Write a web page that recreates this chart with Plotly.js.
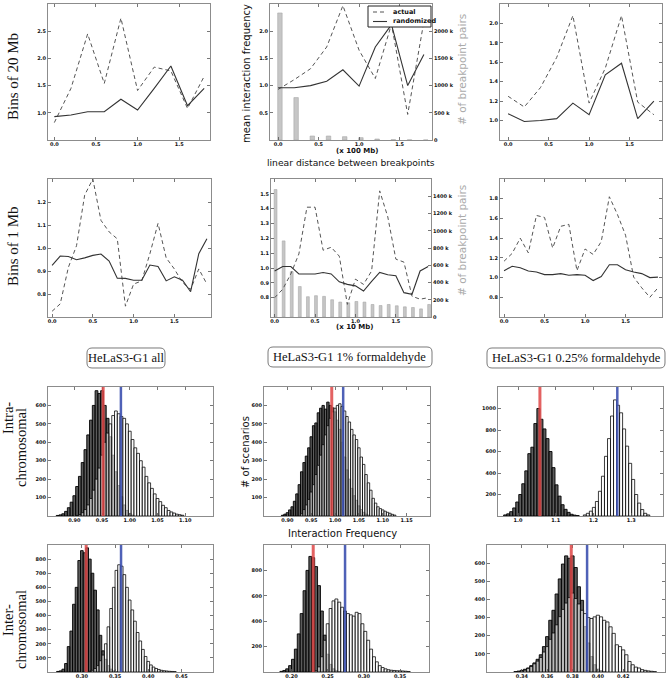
<!DOCTYPE html>
<html><head><meta charset="utf-8">
<script src="https://cdn.plot.ly/plotly-3.0.1.min.js"></script>
<style>body{margin:0;background:#fff}#chart{width:667px;height:681px}</style>
</head><body><div id="chart"></div>
<script>
// ---------- DATA ----------
const dist20 = [0.0,0.2,0.4,0.6,0.8,1.0,1.2,1.4,1.6,1.8];
const dist1 = [0.0,0.1,0.2,0.3,0.4,0.5,0.6,0.7,0.8,0.9,1.0,1.1,1.2,1.3,1.4,1.5,1.6,1.7,1.8,1.9];

const allActual20 = [0.82,1.45,2.45,1.54,2.74,1.41,1.84,1.77,1.08,1.67];
const allRandom20 = [0.93,0.96,1.02,1.02,1.25,1.05,1.45,1.86,1.13,1.45];
const fa1Actual20 = [0.93,1.11,1.31,1.71,2.47,1.65,1.13,2.13,0.47,2.18];
const fa1Random20 = [0.96,0.96,1.00,1.08,1.29,0.99,1.71,2.12,1.00,1.57];
const fa1Pairs20  = [2335000,780000,73000,73000,61000,43000,18000,6000,3000,1000];
const fa025Actual20 = [1.25,1.14,1.34,1.65,2.08,1.18,1.54,2.08,1.19,1.06];
const fa025Random20 = [1.07,0.99,1.00,1.02,1.18,1.06,1.47,1.59,1.02,1.20];

const allActual1 = [0.725,0.757,0.916,1.01,1.23,1.30,1.12,1.07,1.04,0.747,0.843,0.857,0.975,1.107,0.957,0.909,0.85,0.82,0.909,0.843];
const allRandom1 = [0.924,0.965,0.963,0.949,0.957,0.968,0.974,0.943,0.869,0.868,0.86,0.86,0.926,0.92,0.857,0.875,0.86,0.81,0.975,1.04];
const fa1Actual1 = [0.80,0.857,0.96,1.095,1.41,1.41,1.12,1.14,1.08,0.755,0.925,0.89,0.98,1.52,1.345,1.06,1.04,0.81,0.79,0.80];
const fa1Random1 = [0.98,1.01,1.01,0.96,0.96,0.96,0.97,0.96,0.907,0.89,0.88,0.845,0.91,0.97,0.955,0.948,0.834,0.823,0.98,1.01];
const fa1Pairs1  = [1478000,882000,525000,353000,235000,247000,239000,200000,173000,165000,180000,173000,145000,133000,145000,130000,118000,110000,94000,145000];
const fa025Actual1 = [1.166,1.245,1.40,1.25,1.63,1.61,1.30,1.52,1.54,1.07,1.29,1.235,1.365,1.82,1.64,1.43,1.005,0.896,0.80,0.896];
const fa025Random1 = [1.07,1.115,1.10,1.067,1.057,1.03,1.03,1.04,1.023,1.03,1.023,0.97,1.01,1.13,1.13,1.08,1.057,1.04,1.00,1.005];

// histograms: first bin centre + bin width, counts
const allIntraRandStart = 0.870, allIntraRandStep = 0.005;
const allIntraRand = [3,6,12,25,45,75,110,160,215,290,360,440,520,600,680,665,680,600,530,430,330,240,165,105,60,30,14,5];
const allIntraActStart = 0.905, allIntraActStep = 0.005;
const allIntraAct = [3,8,18,35,60,95,140,200,260,330,400,450,500,545,570,555,540,530,500,460,415,370,340,300,265,215,180,150,120,95,78,58,45,30,22,16,10,7,4];

const fa1IntraRandStart = 0.890, fa1IntraRandStep = 0.005;
const fa1IntraRand = [4,10,18,33,50,80,120,170,240,290,325,370,430,490,505,560,585,600,580,618,600,587,565,520,470,400,320,250,200,150,110,85,55,35,20,10,5];
const fa1IntraActStart = 0.930, fa1IntraActStep = 0.005;
const fa1IntraAct = [12,35,60,90,130,170,225,275,330,387,440,490,530,565,585,600,609,595,570,540,510,470,440,415,370,320,280,225,180,140,96,70,50,40,33,26,20,15,9,5];

const fa025IntraRandStart = 0.966, fa025IntraRandStep = 0.008;
const fa025IntraRand = [10,20,40,75,130,200,300,420,580,640,860,1000,900,810,720,600,450,290,185,105,62,34,16,8,4];
const fa025IntraActStart = 1.177, fa025IntraActStep = 0.008;
const fa025IntraAct = [10,25,45,80,135,230,370,555,720,930,1080,1030,960,810,650,490,340,200,120,60,25,10];

const allInterRandStart = 0.264, allInterRandStep = 0.004;
const allInterRand = [4,8,20,60,180,290,480,600,790,860,845,880,800,700,580,440,260,150,90,45,20,8,3];
const allInterActStart = 0.312, allInterActStep = 0.004;
const allInterAct = [5,12,25,45,80,120,200,320,450,600,720,760,750,690,600,510,440,360,280,220,160,110,75,50,35,25,18,12,9,7,5,4,3];

const fa1InterRandStart = 0.186, fa1InterRandStep = 0.004;
const fa1InterRand = [5,12,25,50,100,180,300,460,640,800,910,900,830,680,480,290,140,60,25,10,4];
const fa1InterActStart = 0.234, fa1InterActStep = 0.004;
const fa1InterAct = [10,40,120,250,380,500,560,575,550,510,480,460,450,440,470,460,380,320,250,180,120,80,50,35,25,18,14,12,10,9,8,6,4];

const fa025InterRandStart = 0.335, fa025InterRandStep = 0.0025;
const fa025InterRand = [2,5,9,15,22,35,50,70,95,140,195,285,340,430,513,595,640,627,640,576,470,395,250,160,85,40,16,8,3];
const fa025InterActStart = 0.340, fa025InterActStep = 0.0025;
const fa025InterAct = [5,10,20,30,45,60,80,110,140,180,215,260,305,345,380,410,435,405,375,340,322,300,295,304,313,304,285,276,249,213,150,140,122,95,58,40,27,22,13,9,6,4,2];

// mean lines (red = randomized, blue = actual) for the six histogram panels
const redMeans  = [0.952,0.993,1.058,0.3065,0.230,0.379];
const blueMeans = [0.984,1.017,1.263,0.359,0.274,0.3915];

const rowLabels = ['Bins of 20 Mb','Bins of 1 Mb'];
const rowLabelsSplit = [['Intra-','chromosomal'],['Inter-','chromosomal']];
const colLabels = ['HeLaS3-G1 all','HeLaS3-G1 1% formaldehyde','HeLaS3-G1 0.25% formaldehyde'];
const legendNames = ['actual','randomized'];
const pairTicks20 = [0,500000,1000000,1500000,2000000];
const pairTicks1 = [0,200000,400000,600000,800000,1000000,1200000,1400000];

// ---------- LAYOUT HELPERS ----------
const W=667,H=681;
const px = (a,b)=>[a/W,b/W];
const py = (t,b)=>[1-b/H,1-t/H];
const tickfont = {family:'DejaVu Sans', size:5, color:'#111', weight:'bold'};
function ax(extra){
  return Object.assign({showline:true, linecolor:'#8c8c8c', linewidth:1, ticks:'inside', ticklen:3,
    tickwidth:0.8, tickcolor:'#555', showgrid:false, zeroline:false, mirror:'ticks',
    tickfont:tickfont, fixedrange:true}, extra);
}
function xax(extra){ return ax(Object.assign({ticklabelstandoff:-1}, extra)); }
const kfmt = v => v===0 ? '0' : (v/1000)+' k';

const row1=py(4,140), row2=py(179,317), row3=py(387,516), row4=py(545,672);

const layout = {
  width:W, height:H, margin:{l:0,r:0,t:0,b:0}, paper_bgcolor:'#fff', plot_bgcolor:'#fff',
  barmode:'overlay', showlegend:false,
  // row 1
  xaxis: xax({domain:px(48,210), anchor:'y', range:[-0.076,1.87], dtick:0.5, tick0:0, tickformat:'.1f'}),
  yaxis: ax({domain:row1, anchor:'x', range:[0.5,3.0], tickvals:[1.0,1.5,2.0,2.5], tickformat:'.1f'}),
  xaxis2: xax({domain:px(270,432), anchor:'y2', range:[-0.1,1.9], dtick:0.5, tick0:0, tickformat:'.1f'}),
  yaxis2: ax({domain:row1, anchor:'x2', side:'right', mirror:false, range:[0,2500000], tickvals:pairTicks20, ticktext:pairTicks20.map(kfmt)}),
  yaxis13: ax({anchor:'x2', overlaying:'y2', side:'left', mirror:false, range:[0,2.5], tickvals:[0.5,1.0,1.5,2.0], tickformat:'.1f'}),
  xaxis3: xax({domain:px(500,662), anchor:'y3', range:[-0.1,1.9], dtick:0.5, tick0:0, tickformat:'.1f'}),
  yaxis3: ax({domain:row1, anchor:'x3', range:[0.8,2.2], tickvals:[1.0,1.2,1.4,1.6,1.8,2.0], tickformat:'.1f'}),
  // row 2
  xaxis4: xax({domain:px(48,211), anchor:'y4', range:[-0.05,1.95], dtick:0.5, tick0:0, tickformat:'.1f'}),
  yaxis4: ax({domain:row2, anchor:'x4', range:[0.7,1.3], tickvals:[0.8,0.9,1.0,1.1,1.2], tickformat:'.1f'}),
  xaxis5: xax({domain:px(271,431), anchor:'y5', range:[-0.045,1.935], dtick:0.5, tick0:0, tickformat:'.1f'}),
  yaxis5: ax({domain:row2, anchor:'x5', side:'right', mirror:false, range:[0,1600000], tickvals:pairTicks1, ticktext:pairTicks1.map(kfmt)}),
  yaxis14: ax({anchor:'x5', overlaying:'y5', side:'left', mirror:false, range:[0.67,1.6], tickvals:[0.8,0.9,1.0,1.1,1.2,1.3,1.4,1.5], tickformat:'.1f'}),
  xaxis6: xax({domain:px(500,662), anchor:'y6', range:[-0.05,1.95], dtick:0.5, tick0:0, tickformat:'.1f'}),
  yaxis6: ax({domain:row2, anchor:'x6', range:[0.6,2.0], tickvals:[0.8,1.0,1.2,1.4,1.6,1.8], tickformat:'.1f'}),
  // row 3
  xaxis7: xax({domain:px(48,213), anchor:'y7', range:[0.8526,1.15], tickvals:[0.90,0.95,1.00,1.05,1.10], tickformat:'.2f'}),
  yaxis7: ax({domain:row3, anchor:'x7', range:[0,700], tickvals:[100,200,300,400,500,600]}),
  xaxis8: xax({domain:px(264,430), anchor:'y8', range:[0.851,1.199], tickvals:[0.90,0.95,1.00,1.05,1.10,1.15], tickformat:'.2f'}),
  yaxis8: ax({domain:row3, anchor:'x8', range:[0,700], tickvals:[100,200,300,400,500,600]}),
  xaxis9: xax({domain:px(498,663), anchor:'y9', range:[0.947,1.384], tickvals:[1.0,1.1,1.2,1.3], tickformat:'.1f'}),
  yaxis9: ax({domain:row3, anchor:'x9', range:[0,1200], tickvals:[200,400,600,800,1000]}),
  // row 4
  xaxis10: xax({domain:px(48,213), anchor:'y10', range:[0.249,0.4975], tickvals:[0.30,0.35,0.40,0.45], tickformat:'.2f'}),
  yaxis10: ax({domain:row4, anchor:'x10', range:[0,900], tickvals:[100,200,300,400,500,600,700,800]}),
  xaxis11: xax({domain:px(264,429), anchor:'y11', range:[0.162,0.39], tickvals:[0.20,0.25,0.30,0.35], tickformat:'.2f'}),
  yaxis11: ax({domain:row4, anchor:'x11', range:[0,1000], tickvals:[200,400,600,800]}),
  xaxis12: xax({domain:px(487,665), anchor:'y12', range:[0.3125,0.453], tickvals:[0.34,0.36,0.38,0.40,0.42], tickformat:'.2f'}),
  yaxis12: ax({domain:row4, anchor:'x12', range:[0,700], tickvals:[100,200,300,400,500,600]}),
  shapes:[], annotations:[]
};

// ---------- TRACES ----------
const traces = [];
const dashStyle = {color:'#555', width:1, dash:'4px,3px'};
const solidStyle = {color:'#333', width:1.1};
function linePair(x, act, rnd, xa, ya){
  traces.push({type:'scatter', mode:'lines', x:x, y:act, xaxis:xa, yaxis:ya, line:dashStyle, name:legendNames[0]});
  traces.push({type:'scatter', mode:'lines', x:x, y:rnd, xaxis:xa, yaxis:ya, line:solidStyle, name:legendNames[1]});
}
function pairBars(x, y, xa, ya, w, off){
  traces.push({type:'bar', x:x, y:y, xaxis:xa, yaxis:ya, width:w, offset:off, hoverinfo:'skip',
    marker:{color:'#c6c6c6', line:{color:'#a8a8a8', width:0.6}}});
}
linePair(dist20, allActual20, allRandom20, 'x', 'y');
pairBars(dist20, fa1Pairs20, 'x2', 'y2', 0.055, -0.005);
linePair(dist20, fa1Actual20, fa1Random20, 'x2', 'y13');
linePair(dist20, fa025Actual20, fa025Random20, 'x3', 'y3');
linePair(dist1, allActual1, allRandom1, 'x4', 'y4');
pairBars(dist1, fa1Pairs1, 'x5', 'y5', 0.035, -0.006);
linePair(dist1, fa1Actual1, fa1Random1, 'x5', 'y14');
linePair(dist1, fa025Actual1, fa025Random1, 'x6', 'y6');

function hist(start, step, counts, xa, ya, dark){
  traces.push({type:'bar', x0:start, dx:step, y:counts, width:step, xaxis:xa, yaxis:ya, hoverinfo:'skip',
    marker: dark ? {color:'rgba(50,50,50,0.8)', line:{color:'#000', width:0.9}}
                 : {color:'rgba(252,252,252,0.6)', line:{color:'rgba(0,0,0,0.85)', width:0.9}}});
}
hist(allIntraRandStart, allIntraRandStep, allIntraRand, 'x7','y7', true);
hist(allIntraActStart, allIntraActStep, allIntraAct, 'x7','y7', false);
hist(fa1IntraRandStart, fa1IntraRandStep, fa1IntraRand, 'x8','y8', true);
hist(fa1IntraActStart, fa1IntraActStep, fa1IntraAct, 'x8','y8', false);
hist(fa025IntraRandStart, fa025IntraRandStep, fa025IntraRand, 'x9','y9', true);
hist(fa025IntraActStart, fa025IntraActStep, fa025IntraAct, 'x9','y9', false);
hist(allInterRandStart, allInterRandStep, allInterRand, 'x10','y10', true);
hist(allInterActStart, allInterActStep, allInterAct, 'x10','y10', false);
hist(fa1InterRandStart, fa1InterRandStep, fa1InterRand, 'x11','y11', true);
hist(fa1InterActStart, fa1InterActStep, fa1InterAct, 'x11','y11', false);
hist(fa025InterRandStart, fa025InterRandStep, fa025InterRand, 'x12','y12', true);
hist(fa025InterActStart, fa025InterActStep, fa025InterAct, 'x12','y12', false);

[7,8,9,10,11,12].forEach((n,i)=>{
  layout.shapes.push({type:'line', xref:'x'+n, yref:'y'+n+' domain', x0:redMeans[i], x1:redMeans[i], y0:0, y1:1,
    line:{color:'rgba(222,70,70,0.85)', width:3}});
  layout.shapes.push({type:'line', xref:'x'+n, yref:'y'+n+' domain', x0:blueMeans[i], x1:blueMeans[i], y0:0, y1:1,
    line:{color:'rgba(60,80,175,0.9)', width:2.5}});
});

// ---------- TEXT ----------
const A = layout.annotations;
const S = layout.shapes;
function note(text, x, y, o){
  A.push(Object.assign({text:text, xref:'paper', yref:'paper', x:x/W, y:1-y/H, xanchor:'center', yanchor:'middle',
    showarrow:false, font:{family:'DejaVu Sans', size:10, color:'#111'}}, o||{}));
}
function roundBox(x0, y0, x1, y1, r){
  const X = v => (v/W).toFixed(5), Y = v => (1-v/H).toFixed(5);
  const d = 'M'+X(x0+r)+','+Y(y0)+' L'+X(x1-r)+','+Y(y0)+' Q'+X(x1)+','+Y(y0)+' '+X(x1)+','+Y(y0+r)+
    ' L'+X(x1)+','+Y(y1-r)+' Q'+X(x1)+','+Y(y1)+' '+X(x1-r)+','+Y(y1)+
    ' L'+X(x0+r)+','+Y(y1)+' Q'+X(x0)+','+Y(y1)+' '+X(x0)+','+Y(y1-r)+
    ' L'+X(x0)+','+Y(y0+r)+' Q'+X(x0)+','+Y(y0)+' '+X(x0+r)+','+Y(y0)+' Z';
  S.push({type:'path', xref:'paper', yref:'paper', path:d, line:{color:'#7a7a7a', width:1}});
}
// hand-drawn legend box for the top middle panel
S.push({type:'rect', xref:'paper', yref:'paper', x0:368/W, x1:431/W, y0:1-27/H, y1:1-6/H, line:{color:'#222', width:1}, fillcolor:'#fff', layer:'above'});
S.push({type:'line', xref:'paper', yref:'paper', x0:373/W, x1:387/W, y0:1-12/H, y1:1-12/H, line:dashStyle, layer:'above'});
S.push({type:'line', xref:'paper', yref:'paper', x0:373/W, x1:387/W, y0:1-21.5/H, y1:1-21.5/H, line:solidStyle, layer:'above'});
const legFont = {family:'DejaVu Sans', size:6.5, color:'#111', weight:'bold'};
note(legendNames[0], 391, 11.5, {xanchor:'left', font:legFont});
note(legendNames[1], 391, 21, {xanchor:'left', font:legFont});

const serif = {family:'Liberation Serif', size:15, color:'#111'};
const serif2 = {family:'Liberation Serif', size:14.5, color:'#111'};
note(rowLabels[0], 13, 77, {textangle:-90, font:serif});
note(rowLabels[1], 13, 246, {textangle:-90, font:serif});
note(rowLabelsSplit[0][0], 8, 418, {textangle:-90, font:serif2});
note(rowLabelsSplit[0][1], 21, 448, {textangle:-90, font:serif2});
note(rowLabelsSplit[1][0], 8, 620, {textangle:-90, font:serif2});
note(rowLabelsSplit[1][1], 21, 630, {textangle:-90, font:serif2});
const boxFont = {family:'Liberation Serif', size:12.5, color:'#111'};
note(colLabels[0], 126, 358, {font:boxFont});
note(colLabels[1], 350, 357, {font:boxFont});
note(colLabels[2], 576, 358, {font:boxFont});
roundBox(87, 348, 165, 368, 5);
roundBox(268, 347, 432, 367, 5);
roundBox(487, 348, 665, 368, 5);

note('mean interaction frequency', 247, 74, {textangle:-90, font:{family:'DejaVu Sans', size:10, color:'#111'}});
note('# of breakpoint pairs', 462, 70, {textangle:-90, font:{family:'DejaVu Sans', size:10.5, color:'#aaa'}});
note('(x 100 Mb)', 357, 151, {font:{family:'DejaVu Sans', size:7, color:'#111', weight:'bold'}});
note('linear distance between breakpoints', 351, 163, {font:{family:'DejaVu Sans', size:9.2, color:'#111'}});
note('# of breakpoint pairs', 462, 241, {textangle:-90, font:{family:'DejaVu Sans', size:10.5, color:'#aaa'}});
note('(x 10 Mb)', 355, 327, {font:{family:'DejaVu Sans', size:7, color:'#111', weight:'bold'}});
note('# of scenarios', 245, 452, {textangle:-90, font:{family:'DejaVu Sans', size:10, color:'#111'}});
note('Interaction Frequency', 343, 533, {font:{family:'DejaVu Sans', size:10, color:'#111'}});

Plotly.newPlot('chart', traces, layout, {displayModeBar:false, staticPlot:true});
</script>
</body></html>
